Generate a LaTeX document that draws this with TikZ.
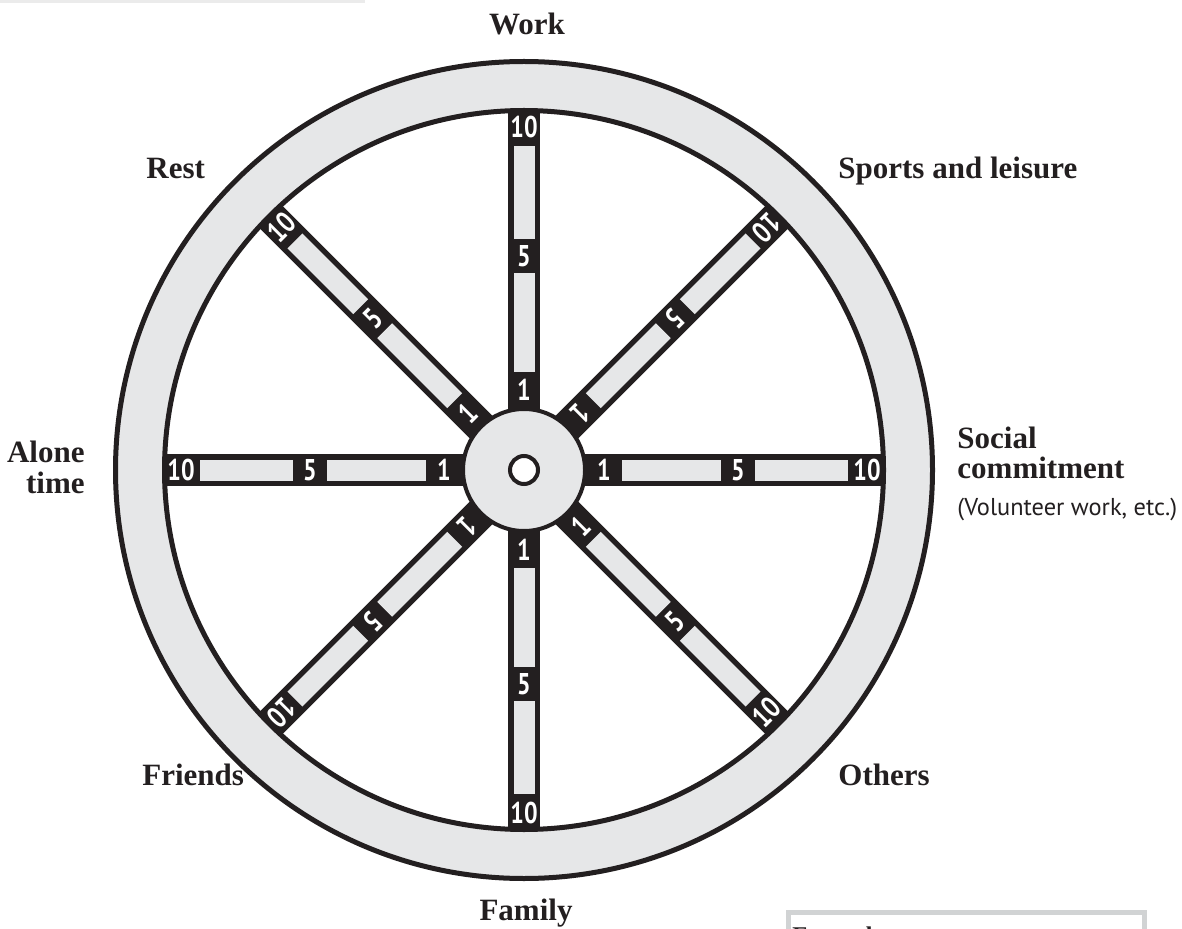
\documentclass[tikz,border=0pt]{standalone}
\usepackage{fontspec}
\usepackage{graphicx}
\setmainfont{Liberation Serif}
\newfontfamily\numfont{PT Sans}
\newfontfamily\notefont{PT Sans}
\newcommand\spokenum[1]{\scalebox{0.8}[1]{#1}}
\definecolor{ink}{HTML}{231F20}
\definecolor{wheelgray}{HTML}{E6E7E8}
\definecolor{bargray}{HTML}{EBEBEB}
\definecolor{boxgray}{HTML}{D1D3D4}
\tikzset{
 lab/.style={font=\fontsize{15.5}{18}\selectfont\bfseries, text=ink, inner sep=0pt},
 note/.style={font=\notefont\fontsize{12.2}{14}\selectfont, text=ink, inner sep=0pt},
 num/.style={font=\numfont\bfseries\fontsize{15}{17}\selectfont, text=white, inner sep=0pt},
 spokebox/.style={fill=ink},
 spokefill/.style={fill=wheelgray},
 rim/.style={draw=ink, line width=2.5pt},
 hubline/.style={draw=ink, line width=2pt}
}
\begin{document}
\begin{tikzpicture}[x=0.5pt,y=0.5pt]
\useasboundingbox (0,0) rectangle (1182,928);
\fill[white] (0,0) rectangle (1182,928);
\fill[bargray] (0,924.5) rectangle (365,928);
\coordinate (C) at (524,458);
\foreach \a/\r/\i in {0/0/E,45/225/NE,90/0/N,135/45/NW,180/0/W,225/225/SW,270/0/S,315/45/SE}{
 \begin{scope}[shift={(C)},rotate=\a]
  \fill[spokebox] (40,-16) rectangle (361,16);
  \fill[spokefill] (98,-10.5) rectangle (197,10.5);
  \fill[spokefill] (231,-10.5) rectangle (324,10.5);
  \node[num,rotate=\r] (one\i) at (80,0) {\spokenum{1}};
  \node[num,rotate=\r] (five\i) at (214,0) {\spokenum{5}};
  \node[num,rotate=\r] (ten\i) at (343,0) {\spokenum{10}};
 \end{scope}
}
\path[fill=wheelgray,even odd rule] (C) circle[radius=408.5] (C) circle[radius=359.5];
\path[rim] (C) circle[radius=408.5];
\path[rim] (C) circle[radius=359.5];
\path[hubline,fill=wheelgray] (C) circle[radius=61];
\path[hubline,fill=white] (C) circle[radius=14];
\node[lab,anchor=base] (work) at (527,893) {Work};
\node[lab,anchor=base] (family) at (526,8) {Family};
\node[lab,anchor=base west] (rest) at (146,749) {Rest};
\node[lab,anchor=base west] (sports) at (838,749) {Sports and leisure};
\node[lab,anchor=base east] (alone) at (85,466) {Alone};
\node[lab,anchor=base east] (time) at (85,435) {time};
\node[lab,anchor=base west] (social) at (957,480) {Social};
\node[lab,anchor=base west] (commit) at (957,450) {commitment};
\node[note,anchor=base west] (vol) at (957,413) {(Volunteer work, etc.)};
\node[lab,anchor=base west] (friends) at (142,143) {Friends};
\node[lab,anchor=base west] (others) at (838,143) {Others};
\draw[boxgray,line width=2.5pt] (788,-20) -- (788,15.5) -- (1144.5,15.5) -- (1144.5,-20);
\node[font=\bfseries\fontsize{12}{14}\selectfont, text=ink, inner sep=0pt, anchor=base west] (example) at (792,-15) {Example};
\end{tikzpicture}
\end{document}
